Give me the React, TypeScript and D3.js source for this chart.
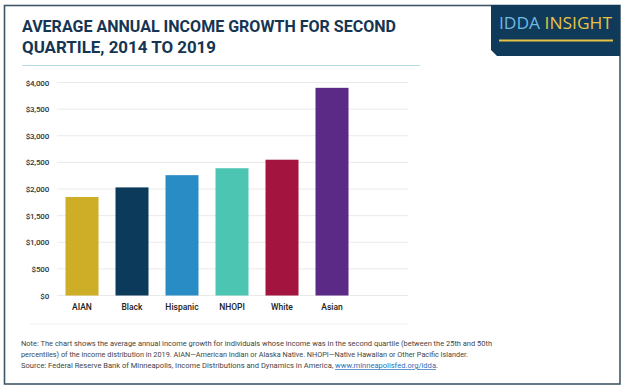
import * as d3 from "d3";

const CATEGORIES = ["AIAN", "Black", "Hispanic", "NHOPI", "White", "Asian"];
const VALUES = [1850, 2030, 2260, 2390, 2550, 3900];
const COLORS = ["#cfae27", "#0c3a5b", "#2a8cc4", "#4cc5b2", "#a3143f", "#5a2a86"];
const Y_TICKS = [0, 500, 1000, 1500, 2000, 2500, 3000, 3500, 4000];

const TITLE_LINES = ["AVERAGE ANNUAL INCOME GROWTH FOR SECOND", "QUARTILE, 2014 TO 2019"];
const NOTE_LINES = [
  "Note: The chart shows the average annual income growth for individuals whose income was in the second quartile (between the 25th and 50th",
  "percentiles) of the income distribution in 2019. AIAN\u2014American Indian or Alaska Native. NHOPI\u2014Native Hawaiian or Other Pacific Islander.",
];
const SOURCE_TEXT = "Source: Federal Reserve Bank of Minneapolis, Income Distributions and Dynamics in America, ";
const SOURCE_LINK = "www.minneapolisfed.org/idda";

const W = 624;
const H = 391;
const FONT = "Roboto, 'Noto Sans', sans-serif";

export default function App() {
  const plotLeft = 57;
  const plotRight = 408;

  const x = d3.scaleBand<string>()
    .domain(CATEGORIES)
    .range([57, 357])
    .paddingInner(0.34)
    .paddingOuter(0.17);

  const y = d3.scaleLinear().domain([0, 4000]).range([295.5, 82.5]);
  const fmt = (v: number) => "$" + d3.format(",")(v);

  return (
    <div style={{ position: "absolute", left: 0, top: 0 }}>
      <svg width={W} height={H} style={{ display: "block", background: "#fff" }}>
        {/* frame */}
        <rect x={4.5} y={5.5} width={615.5} height={378.5} fill="#fff" stroke="#3f5868" strokeWidth={1.6} />

        {/* badge */}
        <path d="M491,5 L620,5 L620,56 L497,56 L491,50 Z" fill="#0f3a5a" />
        <text x={499} y={29} fontFamily="'Open Sans', sans-serif" fontSize={16.5} textLength={113} lengthAdjust="spacingAndGlyphs">
          <tspan fill="#6fb8e2">IDDA </tspan>
          <tspan fill="#e6c245">INSIGHT</tspan>
        </text>
        <rect x={499} y={39.5} width={114} height={2} fill="#e6c245" />

        {/* title */}
        {TITLE_LINES.map((line, i) => (
          <text
            key={line}
            x={22}
            y={32 + i * 21}
            fill="#163552"
            fontFamily={FONT}
            fontWeight={700}
            fontSize={16.5}
            textLength={i === 0 ? 374 : 194}
            lengthAdjust="spacingAndGlyphs"
          >
            {line}
          </text>
        ))}
        <line x1={22} x2={420} y1={65.5} y2={65.5} stroke="#b8dde6" strokeWidth={1} />

        {/* gridlines and y ticks */}
        {Y_TICKS.map((t) => (
          <g key={t}>
            <line x1={plotLeft} x2={plotRight} y1={y(t)} y2={y(t)} stroke="#e4e4e4" strokeWidth={0.8} />
            <text
              x={49}
              y={y(t) + 3}
              textAnchor="end"
              fill="#333"
              fontFamily={FONT}
              fontSize={8}
              fontWeight={500}
              letterSpacing={-0.2}
            >
              {fmt(t)}
            </text>
          </g>
        ))}

        {/* bars */}
        {CATEGORIES.map((c, i) => (
          <rect
            key={c}
            x={x(c)}
            y={y(VALUES[i])}
            width={x.bandwidth()}
            height={y(0) - y(VALUES[i])}
            fill={COLORS[i]}
          />
        ))}

        {/* category labels */}
        {CATEGORIES.map((c) => (
          <text
            key={c}
            x={(x(c) ?? 0) + x.bandwidth() / 2}
            y={310}
            textAnchor="middle"
            fill="#222"
            fontFamily={FONT}
            fontSize={8.5}
            fontWeight={500}
          >
            {c}
          </text>
        ))}

        <line x1={30} x2={408} y1={324} y2={324} stroke="#efefef" strokeWidth={1} />

        {/* note */}
        {NOTE_LINES.map((line, i) => (
          <text
            key={i}
            x={21}
            y={346 + i * 11}
            fill="#444"
            fontFamily={FONT}
            fontSize={7.2}
            textLength={i === 0 ? 471 : 447}
            lengthAdjust="spacingAndGlyphs"
          >
            {line}
          </text>
        ))}
        <text x={21} y={368} fill="#444" fontFamily={FONT} fontSize={7.2} textLength={417} lengthAdjust="spacingAndGlyphs">
          {SOURCE_TEXT}
          <tspan fill="#2a6fb8" textDecoration="underline">{SOURCE_LINK}</tspan>
          <tspan>.</tspan>
        </text>
      </svg>
    </div>
  );
}
